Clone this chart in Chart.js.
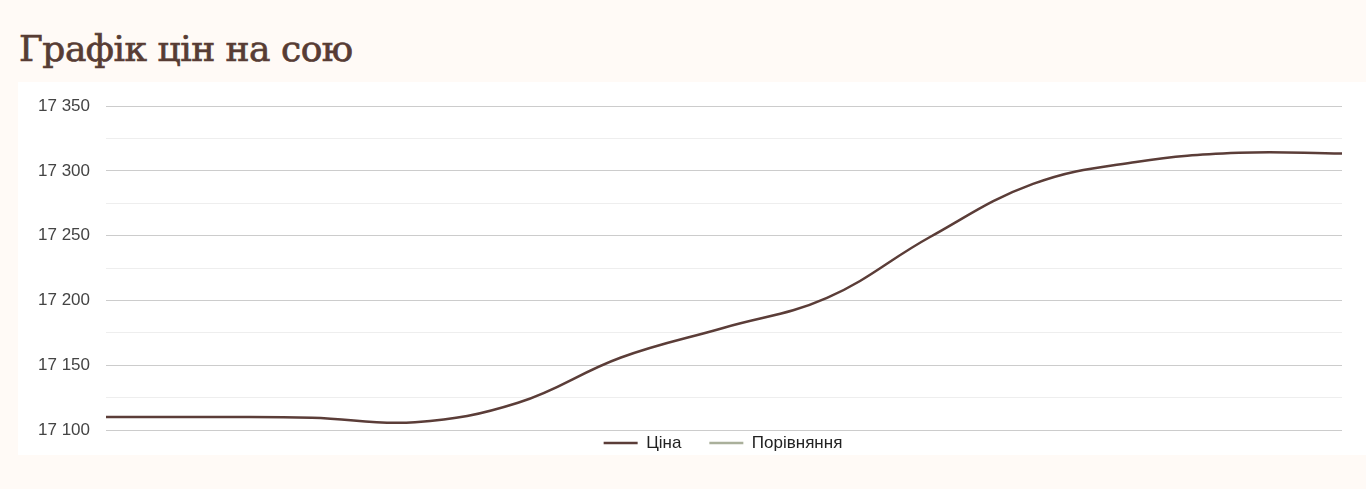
<!DOCTYPE html>
<html>
<head>
<meta charset="utf-8">
<script src="https://cdn.jsdelivr.net/npm/chart.js@4/dist/chart.umd.min.js"></script>
<style>
  html, body { margin: 0; padding: 0; background: #fffaf6; width: 1366px; height: 489px; overflow: hidden; }
  h1 { position: absolute; left: 19px; top: 25px; margin: 0; font-family: "DejaVu Serif", serif; font-weight: normal; font-size: 36px; line-height: 48px; color: #573c34; letter-spacing: -0.5px; -webkit-text-stroke: 0.7px #573c34; }
  #panel { position: absolute; left: 18px; top: 82px; width: 1348px; height: 373px; background: #ffffff; }
  #wrap { position: absolute; left: 0; top: -2px; width: 1348px; height: 405px; }
</style>
</head>
<body>
<h1>Графік цін на сою</h1>
<div id="panel"><div id="wrap"><canvas id="c"></canvas></div></div>
<script>
const categories = ["1","2","3","4","5","6","7","8","9","10","11","12","13"];
const priceValues = [17110, 17110, 17109.5, 17106, 17121, 17156, 17179, 17202, 17249, 17290, 17307, 17314, 17313.5];
const compareValues = [];
const seriesNames = ["Ціна", "Порівняння"];
const yMin = 17100, yMax = 17350, yStep = 25;

function fmt(v) {
  return String(Math.round(v)).replace(/\B(?=(\d{3})+(?!\d))/g, " ");
}

const legendShift = {
  id: 'legendShift',
  afterLayout(chart) {
    const l = chart.legend;
    if (!l) return;
    const dx = 43, dy = -23.5;
    l.left += dx; l.right += dx; l.top += dy; l.bottom += dy;
  }
};

new Chart(document.getElementById('c'), {
  type: 'line',
  data: {
    labels: categories,
    datasets: [
      { label: seriesNames[0], data: priceValues, borderColor: '#5b3d38', backgroundColor: '#5b3d38', borderWidth: 2.5, pointRadius: 0, tension: 0.4, fill: false },
      { label: seriesNames[1], data: compareValues, borderColor: '#aab09b', backgroundColor: '#aab09b', borderWidth: 2.5, pointRadius: 0, tension: 0.4, fill: false }
    ]
  },
  plugins: [legendShift],
  options: {
    responsive: true,
    maintainAspectRatio: false,
    animation: false,
    layout: { padding: { top: 18, right: 24, left: 0, bottom: 0 } },
    plugins: {
      tooltip: { enabled: false },
      legend: {
        position: 'bottom',
        labels: {
          usePointStyle: true,
          pointStyle: 'line',
          pointStyleWidth: 34,
          boxHeight: 17,
          padding: 28,
          color: '#222',
          font: { family: 'Liberation Sans, Arial, sans-serif', size: 17 }
        }
      }
    },
    scales: {
      x: { display: false },
      y: {
        min: yMin, max: yMax,
        border: { display: false },
        ticks: {
          stepSize: yStep,
          color: '#444',
          padding: 16,
          font: { family: 'Liberation Sans, Arial, sans-serif', size: 17 },
          callback: (v) => (v % 50 === 0 ? fmt(v) : '')
        },
        grid: {
          drawTicks: false,
          lineWidth: 1,
          color: (ctx) => (ctx.tick && ctx.tick.value % 50 === 0 ? '#cccccc' : '#eeeeee')
        },
        afterFit: (s) => { s.width = 88; }
      }
    }
  }
});
</script>
</body>
</html>
